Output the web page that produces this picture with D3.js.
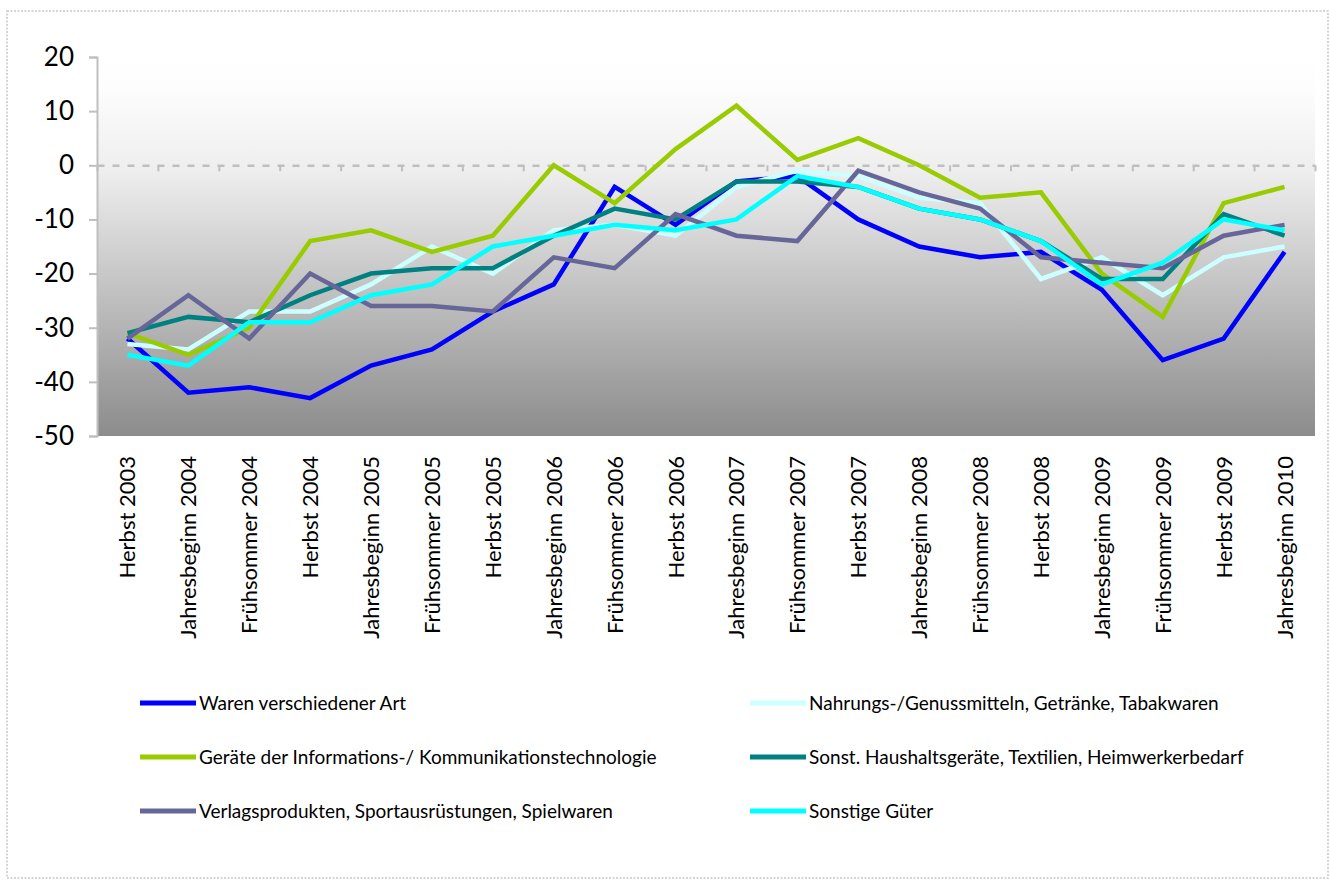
<!DOCTYPE html>
<html>
<head>
<meta charset="utf-8">
<script src="https://cdn.jsdelivr.net/npm/d3@7"></script>
<style>
  html, body { margin: 0; padding: 0; background: #ffffff; }
  svg { display: block; }
  text { font-family: Lato, "Open Sans", sans-serif; fill: #000; }
</style>
</head>
<body>
<svg id="chart" width="1330" height="881"></svg>
<script>
const categories = [
  "Herbst 2003", "Jahresbeginn 2004", "Frühsommer 2004", "Herbst 2004",
  "Jahresbeginn 2005", "Frühsommer 2005", "Herbst 2005", "Jahresbeginn 2006",
  "Frühsommer 2006", "Herbst 2006", "Jahresbeginn 2007", "Frühsommer 2007",
  "Herbst 2007", "Jahresbeginn 2008", "Frühsommer 2008", "Herbst 2008",
  "Jahresbeginn 2009", "Frühsommer 2009", "Herbst 2009", "Jahresbeginn 2010"
];
const seriesNames = [
  "Waren verschiedener Art",
  "Nahrungs-/Genussmitteln, Getränke, Tabakwaren",
  "Geräte der Informations-/ Kommunikationstechnologie",
  "Sonst. Haushaltsgeräte, Textilien, Heimwerkerbedarf",
  "Verlagsprodukten, Sportausrüstungen, Spielwaren",
  "Sonstige Güter"
];
const seriesColors = ["#0000ff", "#ccffff", "#99cc00", "#008080", "#666699", "#00ffff"];

const warenVerschiedener = [-32, -42, -41, -43, -37, -34, -27, -22, -4, -11, -3, -2, -10, -15, -17, -16, -23, -36, -32, -16];
const nahrungsGenuss     = [-33, -34, -27, -27, -22, -15, -20, -12, -11, -13, -4, -1, -2, -6, -7, -21, -17, -24, -17, -15];
const geraeteIKT         = [-31, -35, -30, -14, -12, -16, -13, 0, -7, 3, 11, 1, 5, 0, -6, -5, -20, -28, -7, -4];
const haushaltTextil     = [-31, -28, -29, -24, -20, -19, -19, -13, -8, -10, -3, -3, -4, -8, -10, -14, -21, -21, -9, -13];
const verlagSport        = [-32, -24, -32, -20, -26, -26, -27, -17, -19, -9, -13, -14, -1, -5, -8, -17, -18, -19, -13, -11];
const sonstigeGueter     = [-35, -37, -29, -29, -24, -22, -15, -13, -11, -12, -10, -2, -4, -8, -10, -14, -22, -18, -10, -12];

const seriesValues = [warenVerschiedener, nahrungsGenuss, geraeteIKT, haushaltTextil, verlagSport, sonstigeGueter];
const yTicks = [20, 10, 0, -10, -20, -30, -40, -50];

const svg = d3.select("#chart");
const plotL = 97, plotR = 1315, plotT = 57, plotB = 436;

// outer dotted frame
svg.append("rect")
  .attr("x", 7).attr("y", 11).attr("width", 1321).attr("height", 867)
  .attr("fill", "#fff").attr("stroke", "#c8c8c8").attr("stroke-width", 1.5)
  .attr("stroke-dasharray", "2,1.5");

const x = d3.scaleBand().domain(categories).range([plotL, plotR]).padding(0);
const y = d3.scaleLinear().domain([-50, 20]).range([plotB, plotT]);

// gradient plot background
const defs = svg.append("defs");
const grad = defs.append("linearGradient").attr("id", "bg").attr("x1", 0).attr("y1", 0).attr("x2", 0).attr("y2", 1);
grad.append("stop").attr("offset", "0%").attr("stop-color", "#ffffff");
grad.append("stop").attr("offset", "8%").attr("stop-color", "#fdfdfd");
grad.append("stop").attr("offset", "30%").attr("stop-color", "#eeeeee");
grad.append("stop").attr("offset", "100%").attr("stop-color", "#8c8c8c");
svg.append("rect").attr("x", plotL).attr("y", plotT).attr("width", plotR - plotL).attr("height", plotB - plotT)
  .attr("fill", "url(#bg)");

// y axis
const yAxis = svg.append("g").attr("transform", `translate(${plotL},0)`)
  .call(d3.axisLeft(y).tickValues(yTicks).tickSize(8).tickPadding(15).tickFormat(d3.format("d")));
yAxis.select(".domain").attr("stroke", "#bfbfbf").attr("stroke-width", 2);
yAxis.selectAll(".tick line").attr("stroke", "#bfbfbf").attr("stroke-width", 2);
yAxis.selectAll(".tick text").attr("font-size", 26).attr("font-family", "Lato, sans-serif").attr("fill", "#000")
  .text(d => d < 0 ? "-" + Math.abs(d) : d);

// category axis at zero line (dashed) with boundary ticks
const bnd = d3.scaleLinear().domain([0, categories.length]).range([plotL, plotR]);
const xAxis = svg.append("g").attr("transform", `translate(0,${y(0)})`)
  .call(d3.axisBottom(bnd).tickValues(d3.range(0, categories.length + 1)).tickSize(6).tickSizeOuter(0).tickFormat(""));
xAxis.select(".domain").attr("stroke", "#bfbfbf").attr("stroke-width", 2.5).attr("stroke-dasharray", "7,8");
xAxis.selectAll(".tick line").attr("stroke", "#bfbfbf").attr("stroke-width", 2);

// category labels
svg.append("g").selectAll("text").data(categories).join("text")
  .attr("transform", d => `translate(${x(d) + x.bandwidth() / 2 + 8},${plotB + 20}) rotate(-90)`)
  .attr("text-anchor", "end")
  .attr("font-family", "'Open Sans', sans-serif")
  .attr("font-size", 22)
  .text(d => d);

// lines
const line = d3.line()
  .x((d, i) => x(categories[i]) + x.bandwidth() / 2)
  .y(d => y(d));
svg.append("g").selectAll("path").data(seriesValues).join("path")
  .attr("d", d => line(d))
  .attr("fill", "none")
  .attr("stroke", (d, i) => seriesColors[i])
  .attr("stroke-width", 4.5)
  .attr("stroke-linejoin", "miter");

// legend
const legCols = [140, 750];
const legRows = [703, 757, 811];
const leg = svg.append("g").selectAll("g").data(seriesNames).join("g")
  .attr("transform", (d, i) => `translate(${legCols[i % 2]},${legRows[Math.floor(i / 2)]})`);
leg.append("line").attr("x1", 0).attr("x2", 56).attr("y1", 0).attr("y2", 0)
  .attr("stroke", (d, i) => seriesColors[i]).attr("stroke-width", 5);
leg.append("text").attr("x", 59).attr("y", 0).attr("dy", "0.35em")
  .attr("font-size", 19).text(d => d);
</script>
</body>
</html>
